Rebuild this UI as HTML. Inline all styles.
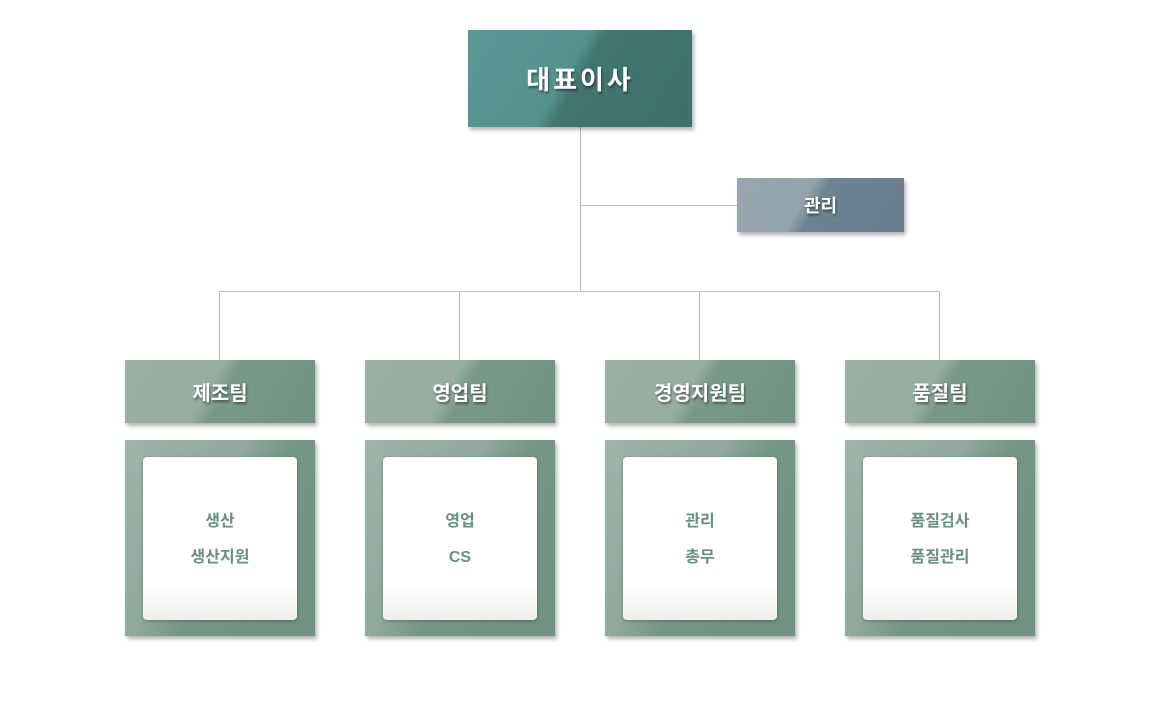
<!DOCTYPE html>
<html><head><meta charset="utf-8"><style>
body{margin:0;width:1160px;height:709px;background:#fff;position:relative;overflow:hidden;font-family:"Liberation Sans","Noto Sans CJK KR",sans-serif}
.b{position:absolute;color:#fff;font-weight:bold;display:flex;align-items:center;justify-content:center;box-shadow:2px 3px 4px rgba(0,0,0,.3);text-shadow:1px 2px 2px rgba(0,0,0,.45)}
.ln{position:absolute;background:#bdbdbd}
.ceo{left:468px;top:30px;width:224px;height:97px;font-size:26px;letter-spacing:3px;background:linear-gradient(120deg,#5a9693 0%,#56918e 44%,#427470 50%,#3f706c 100%)}
.mg{left:737px;top:178px;width:167px;height:54px;font-size:18px;background:linear-gradient(120deg,#98a7b0 0%,#93a3ad 40%,#6e8391 48%,#6a7f8d 100%)}
.t{top:360px;width:190px;height:63px;font-size:20px;background:linear-gradient(120deg,#9cb2a7 0%,#97ada2 44%,#789a8b 52%,#6f9282 100%)}
.c{position:absolute;top:440px;width:190px;height:196px;background:linear-gradient(120deg,#a0b5ab 0%,#8fa99d 40%,#759686 55%,#6f9282 100%);box-shadow:2px 3px 4px rgba(0,0,0,.3)}
.in{position:absolute;left:18px;top:17px;width:154px;height:163px;border-radius:4px;background:linear-gradient(#fff 0%,#fff 78%,#efefef 100%);box-shadow:0 1px 3px rgba(0,0,0,.3);color:#6a9084;font-size:16px;font-weight:bold;text-align:center}
.in div{position:absolute;left:0;right:0;height:20px;line-height:20px}
</style></head><body>
<div class="ln" style="left:580px;top:127px;width:1px;height:164px"></div>
<div class="ln" style="left:580px;top:205px;width:157px;height:1px"></div>
<div class="ln" style="left:219px;top:291px;width:721px;height:1px"></div>
<div class="ln" style="left:219px;top:291px;width:1px;height:69px"></div>
<div class="ln" style="left:459px;top:291px;width:1px;height:69px"></div>
<div class="ln" style="left:699px;top:291px;width:1px;height:69px"></div>
<div class="ln" style="left:939px;top:291px;width:1px;height:69px"></div>
<div class="b ceo">대표이사</div>
<div class="b mg">관리</div>
<div class="b t" style="left:125px">제조팀</div>
<div class="b t" style="left:365px">영업팀</div>
<div class="b t" style="left:605px">경영지원팀</div>
<div class="b t" style="left:845px">품질팀</div>
<div class="c" style="left:125px"><div class="in"><div style="top:55px">생산</div><div style="top:91px">생산지원</div></div></div>
<div class="c" style="left:365px"><div class="in"><div style="top:55px">영업</div><div style="top:91px">CS</div></div></div>
<div class="c" style="left:605px"><div class="in"><div style="top:55px">관리</div><div style="top:91px">총무</div></div></div>
<div class="c" style="left:845px"><div class="in"><div style="top:55px">품질검사</div><div style="top:91px">품질관리</div></div></div>
</body></html>
